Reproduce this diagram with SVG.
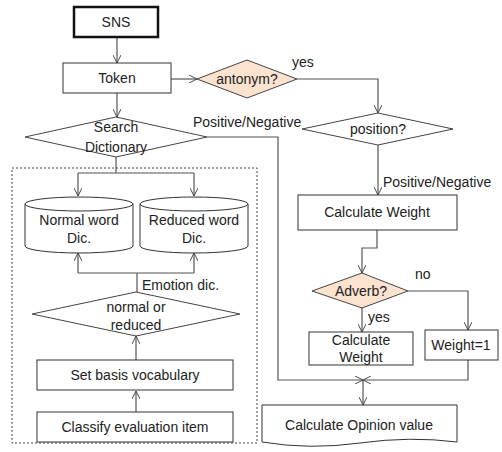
<svg xmlns="http://www.w3.org/2000/svg" width="502" height="452" viewBox="0 0 502 452">
<style>
text{font-family:"Liberation Sans",Arial,sans-serif;font-size:14px;fill:#222;}
.c{text-anchor:middle;}
.box{fill:#fff;stroke:#333;stroke-width:1;}
.dia{fill:#fff;stroke:#444;stroke-width:1;}
.pe{fill:#fbe3d0;stroke:#444;stroke-width:1;}
.ln{fill:none;stroke:#555;stroke-width:1.2;}
</style>
<defs>
<marker id="a" viewBox="0 0 10 10" refX="10" refY="5" markerWidth="8" markerHeight="8" orient="auto" markerUnits="userSpaceOnUse">
<path d="M0,0 L10,5 L0,10" fill="none" stroke="#444" stroke-width="1.2"/>
</marker>
</defs>
<rect x="0" y="0" width="502" height="452" fill="#fff"/>
<rect id="container" x="12" y="168" width="245" height="275" fill="none" stroke="#444" stroke-width="1" stroke-dasharray="2,2"/>
<g id="connectors">
<path class="ln" d="M117,37 V63" marker-end="url(#a)"/>
<path class="ln" d="M171,79 H197" marker-end="url(#a)"/>
<path class="ln" d="M297,79 H378 V113" marker-end="url(#a)"/>
<path class="ln" d="M117,93 V117" marker-end="url(#a)"/>
<path class="ln" d="M207,137 H278 V380 H363" marker-end="url(#a)"/>
<path class="ln" d="M378,145 V195" marker-end="url(#a)"/>
<path class="ln" d="M377,230 V248 H362 V273" marker-end="url(#a)"/>
<path class="ln" d="M408,291 H468 V330" marker-end="url(#a)"/>
<path class="ln" d="M362,308 V332" marker-end="url(#a)"/>
<path class="ln" d="M468,360 V380 H363" marker-end="url(#a)"/>
<path class="ln" d="M363,380 V405" marker-end="url(#a)"/>
<path class="ln" d="M116,157 V173"/>
<path class="ln" d="M78,173 H194"/>
<path class="ln" d="M78,173 V196" marker-end="url(#a)"/>
<path class="ln" d="M194,173 V196" marker-end="url(#a)"/>
<path class="ln" d="M137,292 V273"/>
<path class="ln" d="M78,273 H194"/>
<path class="ln" d="M78,273 V253" marker-end="url(#a)"/>
<path class="ln" d="M194,273 V253" marker-end="url(#a)"/>
<path class="ln" d="M136,360 V336" marker-end="url(#a)"/>
<path class="ln" d="M136,412 V391" marker-end="url(#a)"/>
<text x="292" y="67">yes</text>
<text x="193" y="127">Positive/Negative</text>
<text x="383" y="187">Positive/Negative</text>
<text x="415" y="279">no</text>
<text x="368" y="322">yes</text>
<text x="142" y="290">Emotion dic.</text>
</g>
<g id="sns">
<rect x="74" y="7" width="84" height="30" fill="#fff" stroke="#111" stroke-width="2.5"/>
<text class="c" x="116" y="27">SNS</text>
</g>
<g id="token">
<rect class="box" x="63" y="63" width="108" height="30"/>
<text class="c" x="117" y="83">Token</text>
</g>
<g id="antonym">
<polygon class="pe" points="197,79 247,60 297,79 247,98"/>
<text class="c" x="247" y="84">antonym?</text>
</g>
<g id="search">
<polygon class="dia" points="25,137 116,117 207,137 116,157"/>
<text class="c" x="116" y="132">Search</text>
<text class="c" x="116" y="152">Dictionary</text>
</g>
<g id="position">
<polygon class="dia" points="302,129 378,113 453,129 378,145"/>
<text class="c" x="378" y="134">position?</text>
</g>
<g id="calcweight">
<rect class="box" x="298" y="195" width="159" height="35"/>
<text class="c" x="377" y="217">Calculate Weight</text>
</g>
<g id="adverb">
<polygon class="pe" points="312,291 362,273 408,291 362,308"/>
<text class="c" x="361" y="296">Adverb?</text>
</g>
<g id="calcweight2">
<rect class="box" x="309" y="332" width="104" height="33"/>
<text class="c" x="361" y="345">Calculate</text>
<text class="c" x="361" y="362">Weight</text>
</g>
<g id="weight1">
<rect class="box" x="425" y="330" width="73" height="30"/>
<text class="c" x="461" y="350">Weight=1</text>
</g>
<g id="opinion">
<path class="box" d="M262,405 H457 V442 Q410,436 360,443 Q310,450 262,442 Z"/>
<text class="c" x="359" y="430">Calculate Opinion value</text>
</g>
<g id="normaldic">
<path class="box" d="M25,204 V246 A54,7 0 0 0 133,246 V204"/>
<ellipse class="box" cx="79" cy="204" rx="54" ry="7"/>
<text class="c" x="79" y="225">Normal word</text>
<text class="c" x="79" y="243">Dic.</text>
</g>
<g id="reduceddic">
<path class="box" d="M140,204 V246 A54,7 0 0 0 248,246 V204"/>
<ellipse class="box" cx="194" cy="204" rx="54" ry="7"/>
<text class="c" x="194" y="225">Reduced word</text>
<text class="c" x="194" y="243">Dic.</text>
</g>
<g id="normalorreduced">
<polygon class="dia" points="32,314 136,292 240,314 136,336"/>
<text class="c" x="136" y="312">normal or</text>
<text class="c" x="136" y="330">reduced</text>
</g>
<g id="setbasis">
<rect class="box" x="37" y="360" width="196" height="30"/>
<text class="c" x="135" y="380">Set basis vocabulary</text>
</g>
<g id="classify">
<rect class="box" x="37" y="412" width="196" height="30"/>
<text class="c" x="135" y="432">Classify evaluation item</text>
</g>
</svg>
